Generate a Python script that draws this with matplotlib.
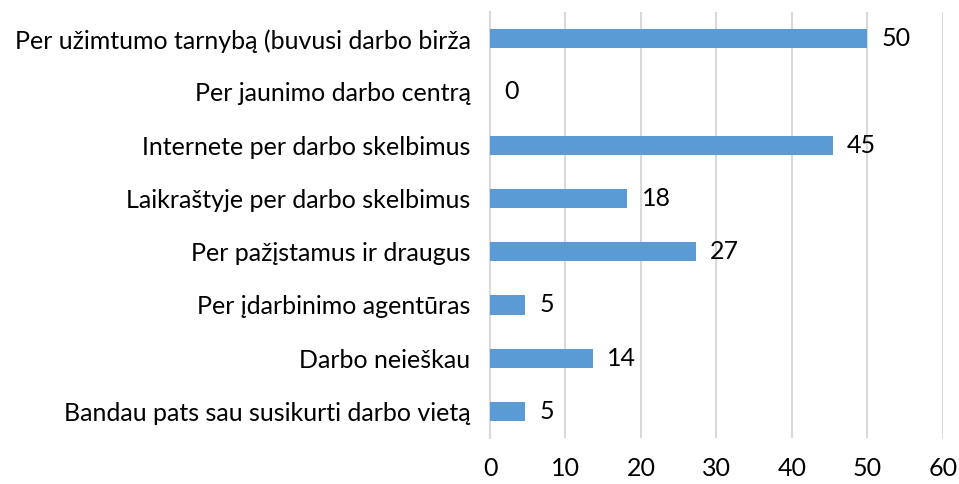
import matplotlib.pyplot as plt
import numpy as np

categories = ['Per užimtumo tarnybą (buvusi darbo birža',
              'Per jaunimo darbo centrą',
              'Internete per darbo skelbimus',
              'Laikraštyje per darbo skelbimus',
              'Per pažįstamus ir draugus',
              'Per įdarbinimo agentūras',
              'Darbo neieškau',
              'Bandau pats sau susikurti darbo vietą']
values = [50.0, 0.0, 45.4, 18.2, 27.3, 4.6, 13.6, 4.6]
xticks = [0, 10, 20, 30, 40, 50, 60]

plt.rcParams['font.family'] = ['Lato', 'DejaVu Sans']
fs = 18

fig = plt.figure(figsize=(9.59, 4.84), dpi=100)
ax = fig.add_axes([0.511, 0.095, 0.472, 0.88])

y = np.arange(len(categories))
ax.barh(y, values, height=0.36, color='#5B9BD5', zorder=3)
for yi, v in zip(y, values):
    ax.text(v + 1.9, yi, f'{v:.0f}', va='center', ha='left', fontsize=fs, color='#000000')

ax.set_yticks(y)
ax.set_yticklabels(categories, fontsize=fs)
ax.set_ylim(len(categories) - 0.5, -0.5)
ax.set_xlim(0, 60)
ax.set_xticks(xticks)
ax.set_xticklabels([str(t) for t in xticks], fontsize=fs)
ax.tick_params(axis='both', length=0)
ax.tick_params(axis='x', pad=14)
ax.tick_params(axis='y', pad=14)

ax.grid(axis='x', color='#D9D9D9', linewidth=1.5, zorder=0)
for s in ['top', 'right', 'bottom']:
    ax.spines[s].set_visible(False)
ax.spines['left'].set_color('#D9D9D9')
ax.spines['left'].set_linewidth(1.5)

fig.savefig('out.png', dpi=100)
